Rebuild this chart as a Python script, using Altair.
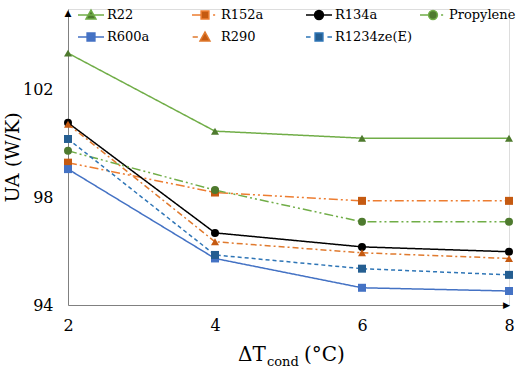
import altair as alt
import pandas as pd

# Condenser approach temperature difference (°C)
dt_cond = [2, 4, 6, 8]

series = ["R22", "R152a", "R134a", "Propylene", "R600a", "R290", "R1234ze(E)"]

# UA (W/K) for each refrigerant
ua_r22 = [103.36, 100.46, 100.20, 100.20]
ua_r152a = [99.29, 98.18, 97.87, 97.87]
ua_r134a = [100.77, 96.68, 96.16, 95.98]
ua_propylene = [99.73, 98.27, 97.09, 97.09]
ua_r600a = [99.05, 95.73, 94.64, 94.52]
ua_r290 = [100.72, 96.35, 95.94, 95.73]
ua_r1234ze = [100.17, 95.86, 95.35, 95.12]

line_colors = ["#70AD47", "#ED7D31", "#000000", "#70AD47", "#4472C4", "#E07A2E", "#2E75B6"]
marker_colors = ["#4E7A2E", "#C55A11", "#000000", "#4E7A2E", "#4472C4", "#C55A11", "#255E91"]
marker_shapes = ["triangle-up", "square", "circle", "circle", "square", "triangle-up", "square"]
dash_styles = [[1, 0], [9, 3, 2, 3, 2, 3], [1, 0], [9, 3, 2, 3, 2, 3], [1, 0], [6, 3, 2, 3], [4, 3]]

# Legend glyphs: a short line sample (with its dash gaps) plus the marker
TRI = "M-0.38,0.3L0,-0.38L0.38,0.3Z"
SQR = "M-0.3,-0.3H0.3V0.3H-0.3Z"
CIR = "M-0.34,0A0.34,0.34 0 1,0 0.34,0A0.34,0.34 0 1,0 -0.34,0Z"
legend_paths = [
    "M-1,0H1" + TRI,
    "M-1,0H-0.3M0.62,0H0.78" + SQR,
    "M-1,0H1" + CIR,
    "M-1,0H-0.3M0.62,0H0.78" + CIR,
    "M-1,0H1" + SQR,
    "M-0.95,0H-0.55" + TRI,
    "M-1,0H-0.65M0.65,0H1" + SQR,
]

values = [ua_r22, ua_r152a, ua_r134a, ua_propylene, ua_r600a, ua_r290, ua_r1234ze]
rows = []
for name, vals in zip(series, values):
    for x, v in zip(dt_cond, vals):
        rows.append({"series": name, "dt": x, "ua": v})
df = pd.DataFrame(rows)

W, H = 441, 296
SERIF = "DejaVu Serif"

x_enc = alt.X("dt:Q", scale=alt.Scale(domain=[2, 8], nice=False, zero=False),
              axis=alt.Axis(values=dt_cond, format="d", title=None, grid=False, ticks=False,
                            labelFont=SERIF, labelFontSize=16, labelColor="black",
                            labelPadding=12, domainColor="#808080", labelFlush=False))
y_enc = alt.Y("ua:Q", scale=alt.Scale(domain=[94, 105], nice=False, zero=False),
              axis=alt.Axis(values=[94, 98, 102], format="d", title="UA (W/K)", grid=False,
                            ticks=False, labelFont=SERIF, labelFontSize=16, labelColor="black",
                            labelPadding=15, domainColor="#808080",
                            titleFont=SERIF, titleFontSize=19, titleFontWeight="normal",
                            titleColor="black", titleAngle=270, titleX=-56, titleY=H / 2,
                            titleAlign="center", titleBaseline="middle"))

lines = alt.Chart(df).mark_line(strokeWidth=1.5).encode(
    x=x_enc, y=y_enc,
    stroke=alt.Stroke("series:N", scale=alt.Scale(domain=series, range=line_colors), legend=None),
    strokeDash=alt.StrokeDash("series:N", scale=alt.Scale(domain=series, range=dash_styles), legend=None),
    order=alt.Order("dt:Q"),
)

points = alt.Chart(df).mark_point(filled=True, size=64, opacity=1).encode(
    x="dt:Q", y="ua:Q",
    fill=alt.Fill("series:N", scale=alt.Scale(domain=series, range=marker_colors), legend=None),
    shape=alt.Shape("series:N", scale=alt.Scale(domain=series, range=marker_shapes), legend=None),
)

legend_layer = alt.Chart(df).transform_filter("false").mark_point(
    filled=True, size=676, opacity=1
).encode(
    x="dt:Q", y="ua:Q",
    fill=alt.Fill("series:N", scale=alt.Scale(domain=series, range=marker_colors), legend=None),
    stroke=alt.Stroke("series:N", scale=alt.Scale(domain=series, range=line_colors), legend=None),
    shape=alt.Shape("series:N", scale=alt.Scale(domain=series, range=legend_paths),
                    legend=alt.Legend(title=None, orient="none", legendX=9, legendY=-3,
                                      direction="horizontal", columns=4, gridAlign="all",
                                      columnPadding=6, rowPadding=4, clipHeight=18,
                                      symbolSize=676, symbolStrokeWidth=1.5, symbolOpacity=1,
                                      labelFont=SERIF, labelFontSize=13, labelColor="black",
                                      labelOffset=2, labelLimit=200)),
)

# Arrowheads at the ends of both axes
arrow_df = pd.DataFrame({"a": ["▲", "▶"], "ax": ["y", "x"]})
y_arrow = alt.Chart(arrow_df).transform_filter("datum.ax == 'y'").mark_text(
    fontSize=9, color="black", baseline="top", font="DejaVu Sans"
).encode(text="a:N", x=alt.value(0), y=alt.value(0))
x_arrow = alt.Chart(arrow_df).transform_filter("datum.ax == 'x'").mark_text(
    fontSize=9, color="black", align="right", baseline="middle", font="DejaVu Sans"
).encode(text="a:N", x=alt.value(W + 1), y=alt.value(H))

# X-axis title with subscript
title_font = dict(font=SERIF, color="black", align="left", baseline="alphabetic")
t_main = alt.Chart(pd.DataFrame({"t": ["ΔT"]})).mark_text(fontSize=20, **title_font).encode(
    text="t:N", x=alt.value(170), y=alt.value(352))
t_sub = alt.Chart(pd.DataFrame({"t": ["cond"]})).mark_text(fontSize=13, **title_font).encode(
    text="t:N", x=alt.value(199), y=alt.value(357))
t_unit = alt.Chart(pd.DataFrame({"t": ["(°C)"]})).mark_text(fontSize=20, **title_font).encode(
    text="t:N", x=alt.value(236), y=alt.value(352))

chart = alt.layer(lines, points, legend_layer, y_arrow, x_arrow, t_main, t_sub, t_unit).resolve_scale(
    shape="independent", fill="independent", stroke="independent"
).properties(
    width=W, height=H,
    autosize=alt.AutoSizeParams(type="none"),
    padding={"left": 68, "top": 9, "right": 7, "bottom": 66},
).configure_view(stroke=None).configure(background="white")

chart.save("out.html", embed_options={"renderer": "svg", "actions": False})
